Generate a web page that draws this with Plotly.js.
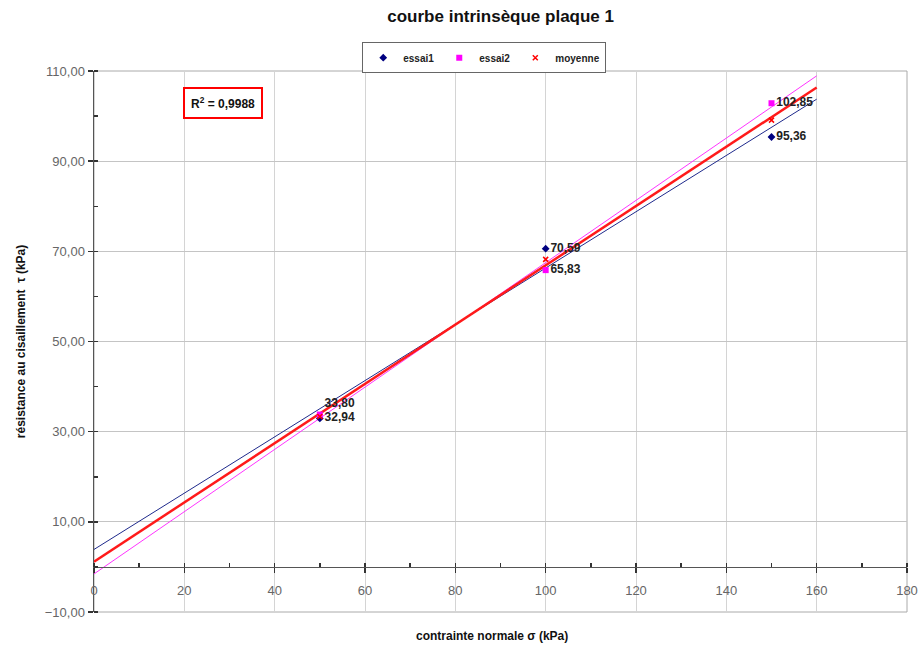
<!DOCTYPE html>
<html>
<head>
<meta charset="utf-8">
<script src="https://cdn.plot.ly/plotly-3.0.1.min.js"></script>
<style>html,body{margin:0;padding:0;background:#fff;}#chart{width:922px;height:650px;}</style>
</head>
<body>
<div id="chart"></div>
<script>
const sigma = [50, 100, 150];
const essai1 = [32.94, 70.59, 95.36];
const essai2 = [33.80, 65.83, 102.85];
const moyenne = [33.37, 68.21, 99.105];
const trendRange = [0, 160];
const r2Text = 'R<sup>2</sup> = 0,9988';
const xTickVals = [0, 20, 40, 60, 80, 100, 120, 140, 160, 180];
const yTickVals = [-10, 10, 30, 50, 70, 90, 110];

function fit(xs, ys) {
  const n = xs.length;
  const mx = xs.reduce((a, b) => a + b, 0) / n;
  const my = ys.reduce((a, b) => a + b, 0) / n;
  let sxy = 0, sxx = 0;
  for (let i = 0; i < n; i++) { sxy += (xs[i] - mx) * (ys[i] - my); sxx += (xs[i] - mx) ** 2; }
  const b = sxy / sxx, a = my - b * mx;
  return trendRange.map(x => a + b * x);
}
const fmt = v => v.toFixed(2).replace('.', ',');
const labelFont = {family: 'Liberation Sans, Arial, sans-serif', size: 12, color: '#222', weight: 'bold'};

const traces = [
  {x: trendRange, y: fit(sigma, essai1), mode: 'lines', line: {color: '#1f2a8c', width: 1}, showlegend: false, hoverinfo: 'skip'},
  {x: trendRange, y: fit(sigma, essai2), mode: 'lines', line: {color: '#ff33ff', width: 1}, showlegend: false, hoverinfo: 'skip'},
  {x: trendRange, y: fit(sigma, moyenne), mode: 'lines', line: {color: '#ff1a1a', width: 2.5}, showlegend: false, hoverinfo: 'skip'},
  {x: sigma, y: essai1, name: 'essai1', mode: 'markers+text', marker: {symbol: 'diamond', size: 6, color: '#000080'},
   text: essai1.map(fmt), textposition: ['middle right', 'middle right', 'middle right'], textfont: labelFont},
  {x: sigma, y: essai2, name: 'essai2', mode: 'markers+text', marker: {symbol: 'square', size: 6, color: '#ff00ff'},
   text: essai2.map(fmt), textposition: ['top right', 'middle right', 'middle right'], textfont: labelFont},
  {x: sigma, y: moyenne, name: 'moyenne', mode: 'markers', marker: {symbol: 'x-thin', size: 5, color: '#ff0000', line: {color: '#ff0000', width: 1.5}}}
];

const layout = {
  width: 922, height: 650,
  margin: {l: 94, r: 15, t: 71, b: 38},
  paper_bgcolor: '#fff', plot_bgcolor: '#fff',
  separators: ', ',
  font: {family: 'Liberation Sans, Arial, sans-serif', size: 11, color: '#444'},
  title: {text: '<b>courbe intrinsèque plaque 1</b>', x: 0.543, xanchor: 'center', y: 0.975, yanchor: 'middle',
          font: {size: 17, color: '#111', family: 'Liberation Sans, Arial, sans-serif'}},
  showlegend: true,
  legend: {orientation: 'h', x: 0.48, xanchor: 'center', y: 0.996, yanchor: 'bottom',
           bordercolor: '#666', borderwidth: 1, bgcolor: '#fff',
           font: {size: 10, color: '#222', weight: 'bold'}, itemwidth: 30, tracegroupgap: 0},
  xaxis: {range: [0, 180], tickvals: xTickVals, ticktext: xTickVals.map(String),
          anchor: 'free', position: 10 / 120,
          showgrid: true, gridcolor: '#d4d4d4', gridwidth: 1, zeroline: false,
          showline: true, linecolor: '#555', linewidth: 1.5,
          ticks: 'outside', ticklen: 5, tickcolor: '#333', tickwidth: 1.5, ticklabelstandoff: 6,
          minor: {dtick: 10, ticks: 'inside', ticklen: 4, tickcolor: '#333', showgrid: false},
          tickfont: {size: 13, color: '#666'}},
  yaxis: {range: [-10, 110], tickvals: yTickVals, tickformat: '.2f',
          showgrid: true, gridcolor: '#c4c4c4', gridwidth: 1, zeroline: false,
          showline: true, linecolor: '#555', linewidth: 1.5,
          ticks: 'outside', ticklen: 5, tickcolor: '#333', tickwidth: 1.5,
          minor: {dtick: 10, ticks: 'inside', ticklen: 4, tickcolor: '#333', showgrid: false},
          tickfont: {size: 13, color: '#666'},
          title: {text: '<b>résistance au cisaillement  τ (kPa)</b>', font: {size: 12, color: '#111'}, standoff: 16}},
  shapes: [
    {type: 'rect', xref: 'paper', yref: 'paper', x0: 0, x1: 1, y0: 0, y1: 1, line: {color: '#aaa', width: 1}, layer: 'below'}
  ],
  annotations: [
    {xref: 'paper', yref: 'paper', x: 0.11, y: 0.94, xanchor: 'left', yanchor: 'middle', showarrow: false,
     text: '<b>' + r2Text + '</b>', font: {size: 12, color: '#111'},
     bordercolor: '#ff0000', borderwidth: 2, borderpad: 6, bgcolor: '#fff'},
    {xref: 'paper', yref: 'paper', x: 0.49, y: -0.0444, xanchor: 'center', yanchor: 'middle', yshift: 0, showarrow: false,
     text: '<b>contrainte normale σ (kPa)</b>', font: {size: 12, color: '#111'}}
  ]
};

Plotly.newPlot('chart', traces, layout, {displayModeBar: false, staticPlot: true});
</script>
</body>
</html>
